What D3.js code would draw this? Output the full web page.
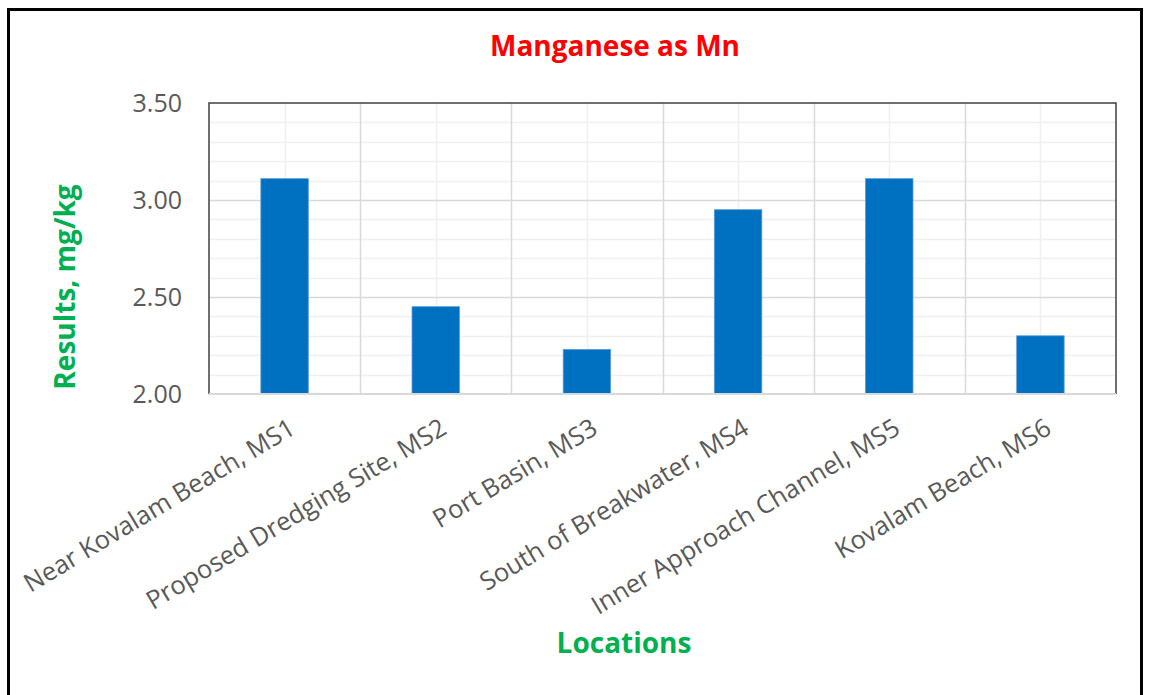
<!DOCTYPE html>
<html>
<head>
<meta charset="utf-8">
<script src="https://cdn.jsdelivr.net/npm/d3@7"></script>
<style>
  html,body{margin:0;padding:0;background:#fff;}
  svg{display:block;}
</style>
</head>
<body>
<svg id="chart" width="1149" height="695"></svg>
<script>
/* Manganese as Mn — bar chart by sampling location */
var locations=['Near Kovalam Beach, MS1','Proposed Dredging Site, MS2','Port Basin, MS3',
  'South of Breakwater, MS4','Inner Approach Channel, MS5','Kovalam Beach, MS6'];
var mnValues=[3.11,2.45,2.23,2.95,3.11,2.30];
var yTicks=[2.00,2.50,3.00,3.50];
var yMinorTicks=[2.1,2.2,2.3,2.4,2.6,2.7,2.8,2.9,3.1,3.2,3.3,3.4];

var W=1149, H=695;
var PL=209, PT=103, PR=1116, PB=394;
var FONT='"Open Sans",sans-serif';

var svg=d3.select('#chart');

/* outer frame */
svg.append('rect').attr('x',8.5).attr('y',9.5).attr('width',1133).attr('height',700)
  .attr('fill','#fff').attr('stroke','#000').attr('stroke-width',3);

var x=d3.scaleBand().domain(locations).range([PL,PR]).paddingInner(0).paddingOuter(0);
var y=d3.scaleLinear().domain([2,3.5]).range([PB,PT]);
var bw=x.bandwidth()*0.314;

/* minor grid */
svg.append('g').selectAll('line').data(yMinorTicks).join('line')
  .attr('x1',PL).attr('x2',PR).attr('y1',function(d){return Math.round(y(d))+0.5}).attr('y2',function(d){return Math.round(y(d))+0.5})
  .attr('stroke','#f0f0f0').attr('stroke-width',1.5);
svg.append('g').selectAll('line').data(locations).join('line')
  .attr('x1',function(d){return Math.round(x(d)+x.bandwidth()/2)+0.5}).attr('x2',function(d){return Math.round(x(d)+x.bandwidth()/2)+0.5})
  .attr('y1',PT).attr('y2',PB).attr('stroke','#f0f0f0').attr('stroke-width',1.5);

/* major grid */
svg.append('g').selectAll('line').data(yTicks.slice(1,3)).join('line')
  .attr('x1',PL).attr('x2',PR).attr('y1',function(d){return Math.round(y(d))+0.5}).attr('y2',function(d){return Math.round(y(d))+0.5})
  .attr('stroke','#d9d9d9').attr('stroke-width',1.5);
svg.append('g').selectAll('line').data(locations.slice(1)).join('line')
  .attr('x1',function(d){return Math.round(x(d))+0.5}).attr('x2',function(d){return Math.round(x(d))+0.5})
  .attr('y1',PT).attr('y2',PB).attr('stroke','#d9d9d9').attr('stroke-width',1.5);

/* bars */
svg.append('g').selectAll('rect').data(mnValues).join('rect')
  .attr('x',function(d,i){return x(locations[i])+x.bandwidth()/2-bw/2})
  .attr('y',function(d){return y(d)})
  .attr('width',bw)
  .attr('height',function(d){return y(2)-y(d)})
  .attr('fill','#0070c0').attr('stroke','#5b9bd5').attr('stroke-width',0.8);

/* plot border: dark left/top/right, light bottom axis */
svg.append('path').attr('d','M'+PL+','+PB+'V'+PT+'H'+PR+'V'+PB)
  .attr('fill','none').attr('stroke','#404040').attr('stroke-width',1.5);
svg.append('line').attr('x1',PL).attr('x2',PR).attr('y1',PB).attr('y2',PB)
  .attr('stroke','#d9d9d9').attr('stroke-width',2);

/* y tick labels */
svg.append('g').selectAll('text').data(yTicks).join('text')
  .attr('x',182).attr('y',function(d){return y(d)}).attr('dy','0.36em')
  .attr('text-anchor','end').attr('font-family',FONT).attr('font-size','25px')
  .attr('fill','#595959').text(function(d){return d.toFixed(2)});

/* x tick labels */
svg.append('g').selectAll('text').data(locations).join('text')
  .attr('transform',function(d){return 'translate('+(x(d)+x.bandwidth()/2+3)+',417) rotate(-31)'})
  .attr('dy','0.72em')
  .attr('text-anchor','end').attr('font-family',FONT).attr('font-size','25.5px')
  .attr('fill','#595959').text(function(d){return d});

/* titles */
svg.append('text').attr('x',615).attr('y',56).attr('text-anchor','middle')
  .attr('font-family',FONT).attr('font-weight','700').attr('font-size','28px')
  .attr('fill','#ff0000').text('Manganese as Mn');
svg.append('text').attr('transform','translate(75,287) rotate(-90)').attr('text-anchor','middle')
  .attr('font-family',FONT).attr('font-weight','700').attr('font-size','28px')
  .attr('fill','#00b050').text('Results, mg/kg');
svg.append('text').attr('x',624).attr('y',653).attr('text-anchor','middle')
  .attr('font-family',FONT).attr('font-weight','700').attr('font-size','28px')
  .attr('fill','#00b050').text('Locations');
</script>
</body>
</html>
